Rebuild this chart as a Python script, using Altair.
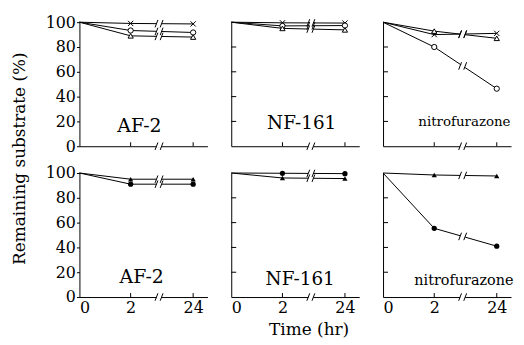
import altair as alt
import pandas as pd

# ---------------- data ----------------
times = [0, 2, 24]
panels = ["AF-2", "NF-161", "nitrofurazone"]
rows = ["top", "bottom"]

# top row: open markers
top_af2_cross = [100, 99, 98.6]
top_af2_circle = [100, 93.3, 91.7]
top_af2_triangle = [100, 89, 88]
top_nf_cross = [100, 99.5, 99.3]
top_nf_circle = [100, 97, 97.3]
top_nf_triangle = [100, 95, 93.8]
top_nz_cross = [100, 90, 91]
top_nz_triangle = [100, 92.8, 87]
top_nz_circle = [100, 80, 46.4]
# bottom row: filled markers
bot_af2_triangle = [100, 95, 95]
bot_af2_circle = [100, 91, 91]
bot_nf_circle = [100, 99.8, 99.5]
bot_nf_triangle = [100, 96, 95.5]
bot_nz_triangle = [100, 98.4, 97.6]
bot_nz_circle = [100, 55.4, 41]

y_ticks = [0, 20, 40, 60, 80, 100]
x_ticks = [0, 2, 24]
inner_x_ticks = [2, 24]
break_time = 12

series = {
    ("top", "AF-2"): {"cross": top_af2_cross, "circle": top_af2_circle, "triangle": top_af2_triangle},
    ("top", "NF-161"): {"cross": top_nf_cross, "circle": top_nf_circle, "triangle": top_nf_triangle},
    ("top", "nitrofurazone"): {"cross": top_nz_cross, "triangle": top_nz_triangle, "circle": top_nz_circle},
    ("bottom", "AF-2"): {"triangle": bot_af2_triangle, "circle": bot_af2_circle},
    ("bottom", "NF-161"): {"circle": bot_nf_circle, "triangle": bot_nf_triangle},
    ("bottom", "nitrofurazone"): {"triangle": bot_nz_triangle, "circle": bot_nz_circle},
}

# ---------------- layout / style ----------------
SERIF = "DejaVu Serif"
W, H = 129, 125
xscale = alt.Scale(domain=[0, 2, 24, 29], range=[0, 51.6, 114.6, W])
yscale = alt.Scale(domain=[0, 100], nice=False, zero=True)
shape_scale = alt.Scale(domain=["cross", "circle", "triangle"],
                        range=["M-1,-1L1,1M-1,1L1,-1", "circle", "triangle-up"])
label_style = {
    ("top", "AF-2"): (60.5, 111, 19),
    ("top", "NF-161"): (71, 107.5, 18.5),
    ("top", "nitrofurazone"): (82, 105, 13.5),
    ("bottom", "AF-2"): (62.7, 111, 19),
    ("bottom", "NF-161"): (69.5, 113, 18.5),
    ("bottom", "nitrofurazone"): (81.5, 113, 14.5),
}


def frames(row, name):
    recs, brk = [], []
    for s, vals in series[(row, name)].items():
        for t, v in zip(times, vals):
            recs.append({"series": s, "time": t, "value": v})
        v2, v24 = vals[1], vals[2]
        vb = v2 + (v24 - v2) * (break_time - 2) / (24 - 2)
        brk.append(vb)
    brk.append(0)
    slashes, gaps = [], []
    for vb in brk:
        gaps.append({"time": break_time - 0.9, "x2": break_time + 0.9, "value": vb})
        for off in (-1.4, 0.4):
            slashes.append({"time": break_time + off, "x2": break_time + off + 1.0,
                            "value": vb - 3, "y2": vb + 3})
    return pd.DataFrame(recs), pd.DataFrame(slashes), pd.DataFrame(gaps)


def make_panel(row, name, col):
    d, sl, gp = frames(row, name)
    bottom = row == "bottom"
    if col == 0:
        ykw = dict(values=y_ticks, tickSize=3, labelPadding=1, labelFontSize=16,
                   labelFont=SERIF, labelColor="black", tickColor="black",
                   domainColor="black", grid=False)
        if bottom:
            yaxis = alt.Axis(title="Remaining substrate (%)", titleFont=SERIF,
                             titleFontSize=17, titleFontWeight="normal", titleColor="black",
                             titleX=-60, titleY=-15, titleAngle=270,
                             titleBaseline="middle", titleAlign="center", **ykw)
        else:
            yaxis = alt.Axis(title=None, **ykw)
    else:
        yaxis = alt.Axis(labels=False, ticks=False, domainColor="black", grid=False, title=None)
    if bottom:
        kw = dict(values=x_ticks, ticks=False, labelPadding=3, labelFontSize=16,
                  labelFont=SERIF, labelColor="black", domainColor="black", grid=False)
        if col == 1:
            xaxis = alt.Axis(title="Time  (hr)", titleFont=SERIF, titleFontSize=17,
                             titleFontWeight="normal", titleColor="black",
                             titleX=78, titleY=33, titleBaseline="middle",
                             titleAlign="center", **kw)
        else:
            xaxis = alt.Axis(title=None, **kw)
    else:
        xaxis = alt.Axis(labels=False, ticks=False, domainColor="black", grid=False, title=None)

    X = lambda f="time:Q": alt.X(f, scale=xscale, axis=xaxis)
    Y = lambda f="value:Q": alt.Y(f, scale=yscale, axis=yaxis)

    base = alt.Chart(d)
    lines = base.mark_line(color="black", strokeWidth=1).encode(
        x=X(), y=Y(), detail="series:N")
    if bottom:
        pts = base.transform_filter("datum.time > 0").mark_point(
            filled=True, color="black", size=28, opacity=1
        ).encode(x=X(), y=Y(),
                 shape=alt.Shape("series:N", scale=shape_scale, legend=None))
    else:
        pts = base.transform_filter("datum.time > 0").mark_point(
            filled=False, fill="white", fillOpacity=1, stroke="black", size=28,
            strokeWidth=1, opacity=1
        ).encode(x=X(), y=Y(),
                 shape=alt.Shape("series:N", scale=shape_scale, legend=None))
    gaps = alt.Chart(gp).mark_rule(color="white", strokeWidth=3).encode(
        x=X(), x2="x2:Q", y=Y())
    slashes = alt.Chart(sl).mark_rule(color="black", strokeWidth=1).encode(
        x=X(), x2="x2:Q", y=Y(), y2="y2:Q")
    xt = alt.Chart(pd.DataFrame({"time": inner_x_ticks})).mark_rule(color="black").encode(
        x=X(), y=alt.value(H), y2=alt.value(H - 4))
    layers = [lines, pts, gaps, slashes, xt]
    if col > 0:
        yt = alt.Chart(pd.DataFrame({"value": y_ticks[1:-1]})).mark_rule(color="black").encode(
            y=Y(), x=alt.value(0), x2=alt.value(5))
        layers.append(yt)
    lx, ly, fs = label_style[(row, name)]
    lab = alt.Chart(pd.DataFrame({"name": [name]})).mark_text(
        font=SERIF, fontSize=fs, color="black", align="center", baseline="alphabetic"
    ).encode(text="name:N", x=alt.value(lx), y=alt.value(ly))
    layers.append(lab)
    return alt.layer(*layers).properties(width=W, height=H)


cells = [make_panel(r, p, i) for r in rows for i, p in enumerate(panels)]
chart = alt.concat(*cells, columns=3, spacing=alt.RowColnumber(row=27, column=24),
                   bounds="flush").properties(
    padding={"left": 2, "top": 5, "right": 2, "bottom": 2}, background="white"
).configure_view(stroke=None)

chart.save("out.html", embed_options={"renderer": "svg", "actions": False})
